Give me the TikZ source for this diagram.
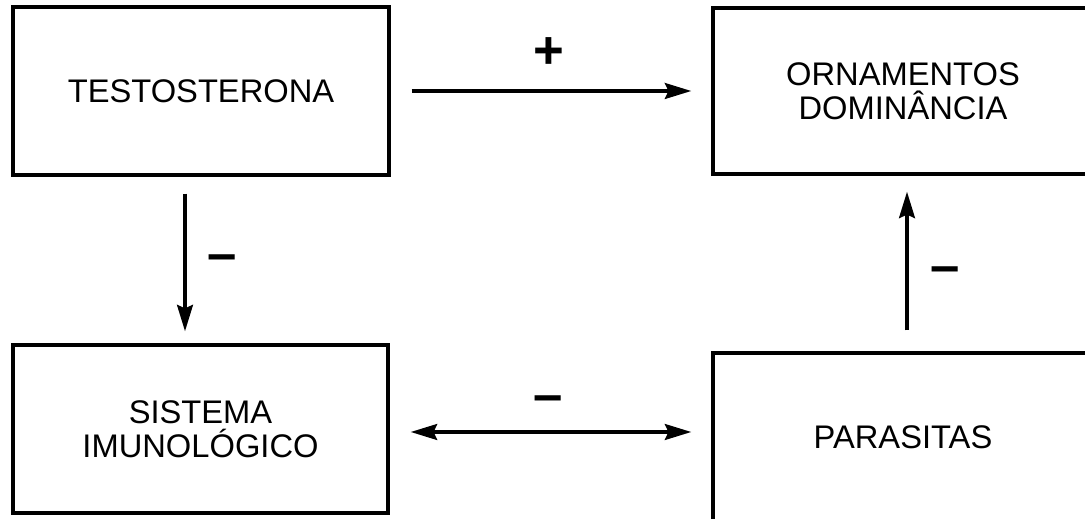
\documentclass[tikz,border=0pt]{standalone}
\usepackage{fontspec}
\setmainfont{Liberation Sans}
\usetikzlibrary{arrows.meta}

\tikzset{
  box/.style={draw=black, line width=2pt, inner sep=0pt, align=center,
    font=\fontsize{18.6}{19.5}\selectfont},
  arr/.style={line width=2pt, -{Stealth[length=15pt,width=9pt,inset=2pt]}},
  darr/.style={line width=2pt, {Stealth[length=15pt,width=9pt,inset=2pt]}-{Stealth[length=15pt,width=9pt,inset=2pt]}},
  sign/.style={inner sep=0pt, anchor=base, font=\fontsize{30}{30}\selectfont\bfseries},
}

\begin{document}
\begin{tikzpicture}[x=0.02cm, y=-0.02cm]
    \useasboundingbox (0,0) rectangle (1085,519);

    \node (testo) at (201,91) [box, minimum width=7.52cm, minimum height=3.36cm] {TESTOSTERONA};
    \node (orna) at (903,91) [box, minimum width=7.6cm, minimum height=3.32cm] {ORNAMENTOS\\DOMINÂNCIA};
    \node (imuno) at (200.5,429) [box, minimum width=7.5cm, minimum height=3.36cm] {SISTEMA\\IMUNOLÓGICO};
    \node (paras) at (903,437) [box, minimum width=7.6cm, minimum height=3.36cm] {PARASITAS};

    \node (plus) at (549,69) [sign] {+};
    \node (minA) at (222,272) [sign] {–};
    \node (minB) at (945,284) [sign] {–};
    \node (minC) at (548,413) [sign] {–};

    \draw[arr, shorten <=0.42cm, shorten >=0.4cm] (testo) -- (orna);
    \draw[darr, shorten <=0.42cm, shorten >=0.4cm] ([yshift=-0.06cm]imuno.east) -- ([yshift=-0.06cm]imuno.east -| paras.west);
    \draw[arr, shorten <=0.34cm, shorten >=0.24cm] ([xshift=-0.32cm]testo.south) -- ([xshift=-0.32cm]testo.south |- imuno.north);
    \draw[arr, shorten <=0.42cm, shorten >=0.32cm] ([xshift=0.08cm]paras.north) -- ([xshift=0.08cm]paras.north |- orna.south);

\end{tikzpicture}
\end{document}
